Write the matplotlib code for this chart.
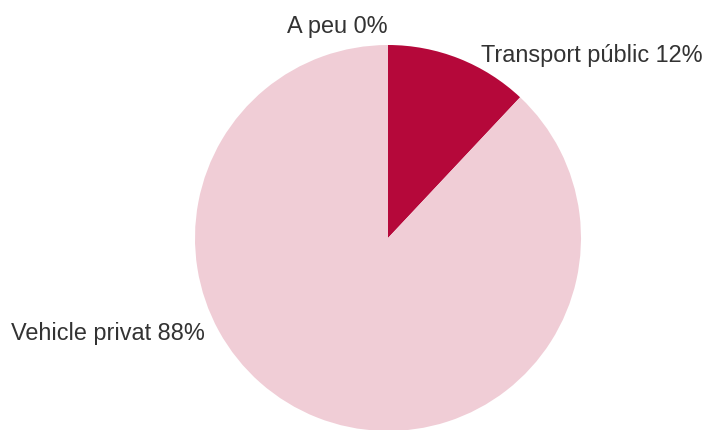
import matplotlib

matplotlib.use("Agg")
import matplotlib.pyplot as plt

categories = ["A peu", "Transport públic", "Vehicle privat"]
shares = [0, 12, 88]
colors = ["#B5083A", "#B5083A", "#F0CDD6"]

# label anchors in pie units (radius = 1) and their alignment
label_pos = [(0.0, 1.10, "right"), (0.48, 0.95, "left"), (-0.948, -0.49, "right")]

plt.rcParams["font.family"] = ["Liberation Sans", "DejaVu Sans"]

W, H, DPI = 704, 431, 100
cx, cy, r = 388, 239, 193  # pie centre and radius in pixels

fig = plt.figure(figsize=(W / DPI, H / DPI), dpi=DPI)
ax = fig.add_axes([0, 0, 1, 1])
ax.axis("off")

ax.pie(shares, colors=colors, startangle=90, counterclock=False, radius=1,
       wedgeprops={"linewidth": 0})
ax.set_xlim(-cx / r, (W - cx) / r)
ax.set_ylim((cy - H) / r, cy / r)
ax.set_aspect("auto")

for name, val, (x, y, ha) in zip(categories, shares, label_pos):
    ax.text(x, y, f"{name} {val}%", ha=ha, va="center", fontsize=16.9,
            color="#333333")

fig.savefig("out.png", dpi=DPI)
plt.close(fig)
